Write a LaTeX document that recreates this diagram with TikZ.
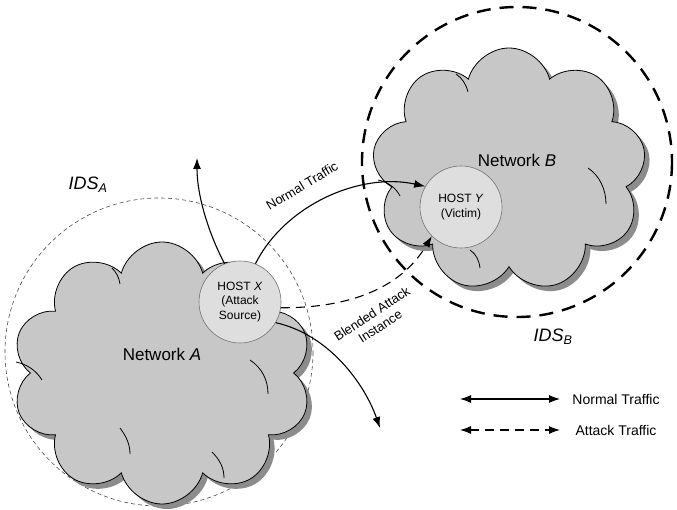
\documentclass[tikz,border=0pt]{standalone}
\usepackage{fontspec}
\setmainfont{Liberation Sans}
\usetikzlibrary{shapes.symbols,shadows,arrows.meta}
\definecolor{cloudgray}{RGB}{199,199,199}
\definecolor{shadegray}{RGB}{140,140,140}
\definecolor{hostgray}{RGB}{222,222,222}
\begin{document}
\begin{tikzpicture}[x=1pt,y=-1pt,
  net/.style={cloud, cloud puffs=10, cloud ignores aspect, draw=black, line width=0.8pt, fill=cloudgray,
    drop shadow={shadow xshift=5pt, shadow yshift=-5pt, fill=shadegray, opacity=1}},
  puff/.style={line width=0.8pt},
  host/.style={circle, draw=black!55, line width=0.6pt, fill=hostgray, minimum size=82pt, inner sep=0pt,
    align=center, font=\fontsize{12}{14.5}\selectfont},
  flow/.style={line width=1.1pt, -{Latex[length=11pt,width=8pt]}},
  attack/.style={flow, dash pattern=on 9pt off 6pt}]
\useasboundingbox (0,0) rectangle (677,510);
% IDS ranges
\draw[black!70, line width=0.6pt, dash pattern=on 4pt off 3pt] (159,352) circle (154);
\draw[line width=2.4pt, dash pattern=on 14pt off 9pt] (517,162) circle (155);
% networks
\node[net, minimum width=300pt, minimum height=262pt] (neta) at (162,373) {};
\node[net, cloud puffs=9, minimum width=274pt, minimum height=244pt] (netb) at (509,170) {};
\draw[puff] (112,268) .. controls (116,272) and (119,277) .. (120,284);
\draw[puff] (16,362) .. controls (26,364) and (36,370) .. (42,380);
\draw[puff] (250,360) .. controls (262,368) and (268,380) .. (268,394);
\draw[puff] (120,428) .. controls (126,436) and (130,444) .. (130,454);
\draw[puff] (212,452) .. controls (220,460) and (224,468) .. (224,478);
\draw[puff] (456,74) .. controls (462,78) and (466,84) .. (468,92);
\draw[puff] (378,180) .. controls (388,182) and (396,188) .. (400,196);
\draw[puff] (588,168) .. controls (600,176) and (606,190) .. (606,204);
\draw[puff] (470,250) .. controls (476,254) and (479,260) .. (480,268);
\node[font=\fontsize{17}{19}\selectfont] at (162,354) {Network \textit{A}};
\node[font=\fontsize{17}{19}\selectfont] at (517,160) {Network \textit{B}};
\node[font=\fontsize{18}{20}\selectfont] at (88,185) {\textit{IDS\textsubscript{A}}};
\node[font=\fontsize{18}{20}\selectfont] at (553,337) {\textit{IDS\textsubscript{B}}};
% hosts
\node[host] (hx) at (240,302) {HOST \textit{X}\\(Attack\\Source)};
\node[host] (hy) at (461,207) {HOST \textit{Y}\\(Victim)};
% traffic
\coordinate (up) at (197,158);
\coordinate (down) at (380,428);
\draw[flow] (hx.112) .. controls (208,232) and (197,195) .. (up);
\draw[flow] (hx.68) .. controls (285,205) and (360,172) .. (hy.150);
\draw[attack] (hx.-8) .. controls (330,308) and (395,298) .. (hy.-135);
\draw[flow] (hx.-30) .. controls (330,335) and (365,385) .. (down);
\node[rotate=31, font=\fontsize{13}{15}\selectfont] at (302,186) {Normal Traffic};
\node[rotate=33, align=center, font=\fontsize{13}{15}\selectfont] at (376,320) {Blended Attack\\Instance};
% legend
\coordinate (n1) at (460,399);
\coordinate (n2) at (560,399);
\coordinate (a1) at (460,430);
\coordinate (a2) at (560,430);
\draw[flow, {Latex[length=11pt,width=8pt]}-{Latex[length=11pt,width=8pt]}] (n1) -- (n2);
\draw[attack, {Latex[length=11pt,width=8pt]}-{Latex[length=11pt,width=8pt]}] (a1) -- (a2);
\node[font=\fontsize{14}{16}\selectfont] at (616,399) {Normal Traffic};
\node[font=\fontsize{14}{16}\selectfont] at (616,430) {Attack Traffic};
\end{tikzpicture}
\end{document}
